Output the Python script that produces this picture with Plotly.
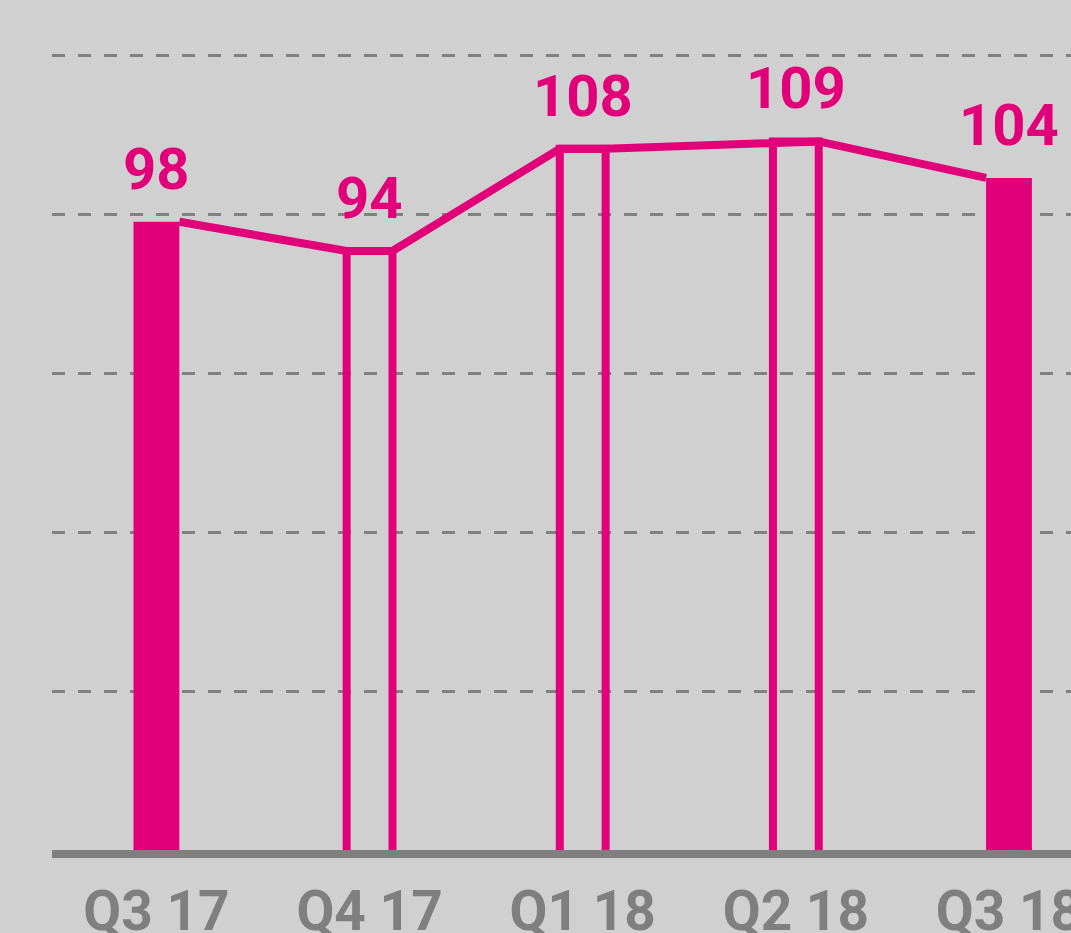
import plotly.graph_objects as go

categories = ["Q3 17", "Q4 17", "Q1 18", "Q2 18", "Q3 18"]
values = [98, 94, 108, 109, 104]
filled = [True, False, False, False, True]

MAGENTA = "#e2007a"
GRAY = "#7f7f7f"
BG = "#d0d0d0"
FONT = "Roboto, Arial, sans-serif"
BAR_W = 0.215

xs = list(range(len(categories)))

fig = go.Figure()

# filled bars
fig.add_trace(go.Bar(
    x=[x for x, f in zip(xs, filled) if f],
    y=[v for v, f in zip(values, filled) if f],
    width=BAR_W,
    marker=dict(color=MAGENTA, line=dict(width=0)),
    hoverinfo="skip",
))
# hollow bars
fig.add_trace(go.Bar(
    x=[x for x, f in zip(xs, filled) if not f],
    y=[v for v, f in zip(values, filled) if not f],
    width=BAR_W,
    marker=dict(color="rgba(0,0,0,0)", line=dict(color=MAGENTA, width=8)),
    hoverinfo="skip",
))

# connecting line across bar tops
lx, ly = [], []
for i, (x, v) in enumerate(zip(xs, values)):
    if i > 0:
        lx.append(x - BAR_W / 2)
        ly.append(v)
    if i < len(xs) - 1:
        lx.append(x + BAR_W / 2)
        ly.append(v)
fig.add_trace(go.Scatter(
    x=lx, y=ly, mode="lines",
    line=dict(color=MAGENTA, width=8),
    hoverinfo="skip",
))

for x, v in zip(xs, values):
    fig.add_annotation(
        x=x, y=v, text=f"<b>{v}</b>", showarrow=False,
        yanchor="bottom", yshift=17,
        font=dict(family=FONT, size=58, color=MAGENTA),
    )

fig.update_layout(
    width=1071, height=933,
    margin=dict(l=52, r=0, t=54, b=83, autoexpand=False),
    paper_bgcolor=BG, plot_bgcolor=BG,
    showlegend=False,
    barmode="overlay",
    xaxis=dict(
        range=[-0.49, 4.291],
        tickmode="array", tickvals=xs,
        ticktext=[f"<b>{c}</b>" for c in categories],
        tickfont=dict(family=FONT, size=55, color=GRAY),
        ticklabeloverflow="allow",
        ticklabelstandoff=6,
        automargin=False,
        showgrid=False, zeroline=False,
        showline=True, linecolor=GRAY, linewidth=8,
        ticks="",
    ),
    yaxis=dict(
        range=[12, 120.97],
        tick0=12, dtick=21.74,
        showticklabels=False,
        automargin=False,
        showgrid=True, gridcolor="#808080", gridwidth=2.5,
        griddash="13px,13px",
        zeroline=False, showline=False, ticks="",
    ),
)

fig.write_html(
    "out.html",
    config={"displayModeBar": False},
    post_script="document.body.style.margin='0';document.body.style.overflow='hidden';",
)
